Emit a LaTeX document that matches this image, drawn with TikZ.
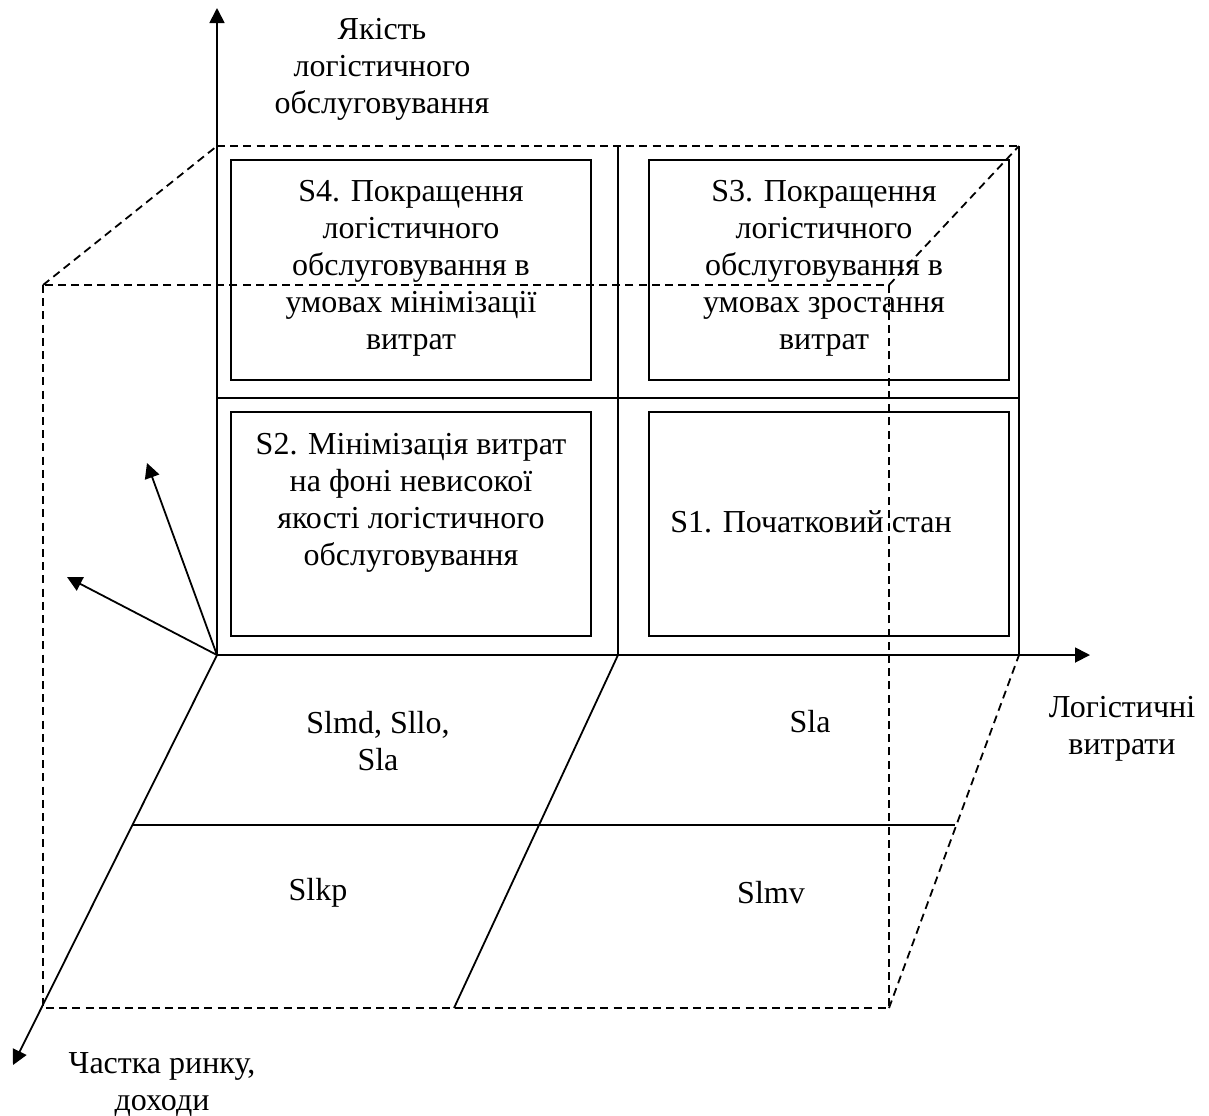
\documentclass[tikz,border=0pt]{standalone}
\usepackage{fontspec}
\setmainfont{Liberation Serif}
\usetikzlibrary{arrows.meta}
\begin{document}
\begin{tikzpicture}[x=0.5pt,y=-0.5pt,
  ln/.style={line width=0.9pt},
  dsh/.style={line width=0.9pt, dash pattern=on 4pt off 2.6pt},
  axis/.style={ln, -{Triangle[length=7.5pt,width=7.5pt]}},
  lbl/.style={align=center, font=\fontsize{16}{18.5}\selectfont, inner sep=0pt},
]
\useasboundingbox (0,0) rectangle (1209,1115);
% key points
\coordinate (O) at (217,655);
\coordinate (ytip) at (217,8);
\coordinate (xtip) at (1090,655);
\coordinate (ztip) at (13,1065);
\coordinate (a1) at (147,463);
\coordinate (a2) at (67,577);
\coordinate (btl) at (217,146);
\coordinate (btm) at (618,146);
\coordinate (btr) at (1019,146);
\coordinate (bmr) at (1019,398);
\coordinate (bml) at (217,398);
\coordinate (bbm) at (618,655);
\coordinate (bbr) at (1019,655);
\coordinate (ftl) at (43,285);
\coordinate (ftr) at (889,285);
\coordinate (fbl) at (43,1008);
\coordinate (fbr) at (889,1008);
\coordinate (fbm) at (454,1008);
\coordinate (hl) at (133,825);
\coordinate (hr) at (955,825);

% back face frame
\draw[dsh] (btl) -- (btr);
\draw[ln] (btm) -- (bbm);
\draw[ln] (btr) -- (bbr);
\draw[ln] (bml) -- (bmr);

% inner boxes
\draw[ln] (231,160) rectangle (591,380);
\draw[ln] (649,160) rectangle (1009,380);
\draw[ln] (231,412) rectangle (591,636);
\draw[ln] (649,412) rectangle (1009,636);

% front (dashed) box and depth edges
\draw[dsh] (ftl) rectangle (fbr);
\draw[dsh] (ftl) -- (btl);
\draw[dsh] (ftr) -- (btr);
\draw[dsh] (fbr) -- (bbr);

% floor lines
\draw[ln] (bbm) -- (fbm);
\draw[ln] (hl) -- (hr);

% axes
\draw[axis] (O) -- (ytip);
\draw[axis] (O) -- (xtip);
\draw[axis] (O) -- (ztip);
\draw[axis] (O) -- (a1);
\draw[axis] (O) -- (a2);

% axis labels
\node[lbl] (lq) at (382,69) {Якість\\логістичного\\обслуговування};
\node[lbl] (lc) at (1122,729) {Логістичні\\витрати};
\node[lbl] (ls) at (162,1085) {Частка ринку,\\доходи};

% box texts
\node[lbl] (s4) at (411,268) {S4. Покращення\\логістичного\\обслуговування в\\умовах мінімізації\\витрат};
\node[lbl] (s3) at (824,268) {S3. Покращення\\логістичного\\обслуговування в\\умовах зростання\\витрат};
\node[lbl] (s2) at (411,503) {S2. Мінімізація витрат\\на фоні невисокої\\якості логістичного\\обслуговування};
\node[lbl] (s1) at (811,522) {S1. Початковий стан};

% floor labels
\node[lbl] (f1) at (378,741) {Slmd, Sllo,\\Sla};
\node[lbl] (f2) at (810,722) {Sla};
\node[lbl] (f3) at (318,893) {Slkp};
\node[lbl] (f4) at (771,893) {Slmv};
\end{tikzpicture}
\end{document}
